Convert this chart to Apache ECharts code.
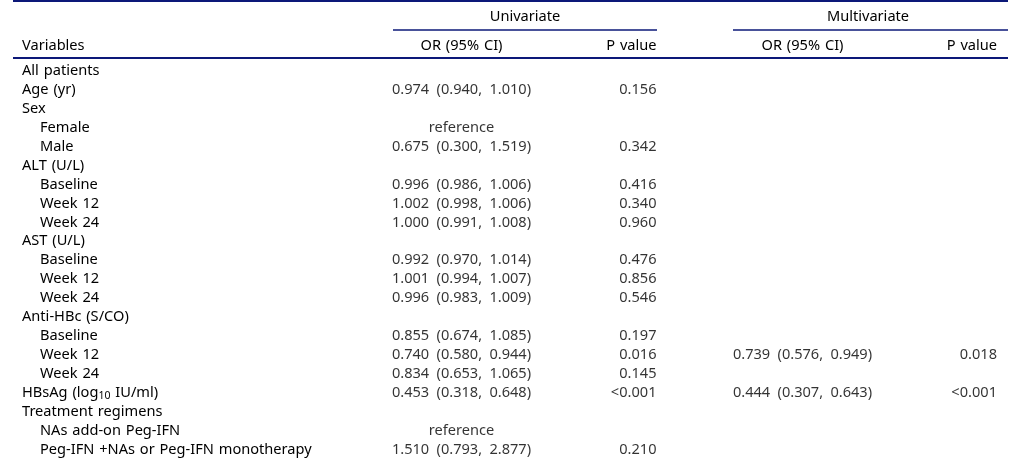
<!DOCTYPE html>
<html><head><meta charset="utf-8">
<script src="https://cdn.jsdelivr.net/npm/echarts@6/dist/echarts.min.js"></script>
<style>html,body{margin:0;padding:0;background:#fff}#c{width:1021px;height:459px}</style>
</head><body><div id="c"></div>
<script>
// ---- data ----
const spanners = ['Univariate', 'Multivariate'];
const headers = ['Variables', 'OR (95% CI)', 'P value', 'OR (95% CI)', 'P value'];
const rows = ['All patients','Age (yr)','Sex','Female','Male','ALT (U/L)','Baseline','Week 12','Week 24',
  'AST (U/L)','Baseline','Week 12','Week 24','Anti-HBc (S/CO)','Baseline','Week 12','Week 24',
  'HBsAg (log10 IU/ml)','Treatment regimens','NAs add-on Peg-IFN','Peg-IFN +NAs or Peg-IFN monotherapy'];
const levels = [0,0,0,1,1,0,1,1,1,0,1,1,1,0,1,1,1,0,0,1,1];
const uniOR  = [null,0.974,null,'reference',0.675,null,0.996,1.002,1.000,null,0.992,1.001,0.996,null,0.855,0.740,0.834,0.453,null,'reference',1.510];
const uniLo  = [null,0.940,null,null,0.300,null,0.986,0.998,0.991,null,0.970,0.994,0.983,null,0.674,0.580,0.653,0.318,null,null,0.793];
const uniHi  = [null,1.010,null,null,1.519,null,1.006,1.006,1.008,null,1.014,1.007,1.009,null,1.085,0.944,1.065,0.648,null,null,2.877];
const uniP   = [null,'0.156',null,null,'0.342',null,'0.416','0.340','0.960',null,'0.476','0.856','0.546',null,'0.197','0.016','0.145','<0.001',null,null,'0.210'];
const multiOR = [null,null,null,null,null,null,null,null,null,null,null,null,null,null,null,0.739,null,0.444,null,null,null];
const multiLo = [null,null,null,null,null,null,null,null,null,null,null,null,null,null,null,0.576,null,0.307,null,null,null];
const multiHi = [null,null,null,null,null,null,null,null,null,null,null,null,null,null,null,0.949,null,0.643,null,null,null];
const multiP  = [null,null,null,null,null,null,null,null,null,null,null,null,null,null,null,'0.018',null,'<0.001',null,null,null];

// ---- layout / style ----
const W = 1021;
const FONT = 'Noto Sans';
const FS = 14.6;
const TXT = '#000';
const RULE = '#0c1878';
const col = { varX: 22, indent: 18, uniOR: 461.5, uniP: 656.5, multiOR: 802.5, multiP: 997 };
const SP = '\u2002';      // wide gap used in the OR (95% CI) strings
const wide = s => s.replace(/ /g, '\u2004');  // slightly wider word spacing as in the source table

function orText(o, lo, hi) {
  if (o === null) return null;
  if (typeof o === 'string') return o;
  return o.toFixed(3) + SP + '(' + lo.toFixed(3) + ',' + SP + hi.toFixed(3) + ')';
}
function buildData(x, texts) {
  const out = [];
  texts.forEach((t, i) => { if (t !== null) out.push({ name: t, value: [x, i] }); });
  return out;
}
const uniORText = uniOR.map((o, i) => orText(o, uniLo[i], uniHi[i]));
const multiORText = multiOR.map((o, i) => orText(o, multiLo[i], multiHi[i]));

function textSeries(x, texts, position) {
  return {
    type: 'scatter', silent: true, symbolSize: 0.01,
    itemStyle: { color: 'rgba(0,0,0,0)' },
    data: buildData(x, texts),
    label: { show: true, position: position, distance: 0, formatter: '{b}',
      fontFamily: FONT, fontSize: FS, color: TXT },
    emphasis: { disabled: true }
  };
}

const baseText = { fontFamily: FONT, fontSize: FS, fill: TXT };
const chart = echarts.init(document.getElementById('c'), null, { renderer: 'canvas' });
chart.setOption({
  animation: false,
  grid: { left: 0, right: 0, top: 61.5, bottom: -0.5 },
  xAxis: { type: 'value', min: 0, max: W, show: false },
  yAxis: {
    type: 'category', inverse: true, data: rows,
    axisLine: { show: false }, axisTick: { show: false }, splitLine: { show: false },
    axisLabel: {
      inside: true, margin: col.varX, align: 'left', interval: 0,
      fontFamily: FONT, fontSize: FS, color: TXT, lineHeight: 18,
      formatter: (v, i) => {
        let s = wide(rows[i]);
        if (levels[i] === 1) return '{ind|' + s + '}';
        if (s.indexOf('log10') >= 0) return s.replace('log10', 'log{sub|10}');
        return s;
      },
      rich: {
        ind: { padding: [0, 0, 0, col.indent], fontFamily: FONT, fontSize: FS, color: TXT, lineHeight: 18 },
        sub: { fontFamily: FONT, fontSize: 10.5, color: TXT, verticalAlign: 'bottom', lineHeight: 12 }
      }
    }
  },
  series: [
    textSeries(col.uniOR, uniORText, 'inside'),
    textSeries(col.uniP, uniP.map(t => t && wide(t)), 'left'),
    textSeries(col.multiOR, multiORText, 'inside'),
    textSeries(col.multiP, multiP.map(t => t && wide(t)), 'left')
  ],
  graphic: [
    { type: 'line', silent: true, shape: { x1: 13, y1: 1, x2: 1008, y2: 1 }, style: { stroke: RULE, lineWidth: 2 } },
    { type: 'line', silent: true, shape: { x1: 393, y1: 30, x2: 657, y2: 30 }, style: { stroke: RULE, lineWidth: 1.6 } },
    { type: 'line', silent: true, shape: { x1: 733, y1: 30, x2: 1008, y2: 30 }, style: { stroke: RULE, lineWidth: 1.6 } },
    { type: 'line', silent: true, shape: { x1: 13, y1: 58, x2: 1008, y2: 58 }, style: { stroke: RULE, lineWidth: 2 } },
    { type: 'text', silent: true, x: 525, y: 17, style: Object.assign({ text: spanners[0], align: 'center', verticalAlign: 'middle' }, baseText) },
    { type: 'text', silent: true, x: 868, y: 17, style: Object.assign({ text: spanners[1], align: 'center', verticalAlign: 'middle' }, baseText) },
    { type: 'text', silent: true, x: col.varX, y: 46, style: Object.assign({ text: wide(headers[0]), align: 'left', verticalAlign: 'middle' }, baseText) },
    { type: 'text', silent: true, x: col.uniOR, y: 46, style: Object.assign({ text: wide(headers[1]), align: 'center', verticalAlign: 'middle' }, baseText) },
    { type: 'text', silent: true, x: col.uniP, y: 46, style: Object.assign({ text: wide(headers[2]), align: 'right', verticalAlign: 'middle' }, baseText) },
    { type: 'text', silent: true, x: col.multiOR, y: 46, style: Object.assign({ text: wide(headers[3]), align: 'center', verticalAlign: 'middle' }, baseText) },
    { type: 'text', silent: true, x: col.multiP, y: 46, style: Object.assign({ text: wide(headers[4]), align: 'right', verticalAlign: 'middle' }, baseText) }
  ]
});
</script></body></html>
